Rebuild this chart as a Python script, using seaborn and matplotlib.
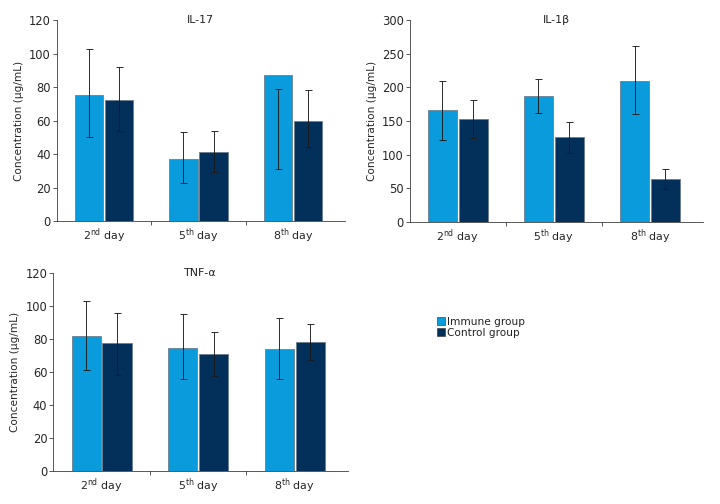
import numpy as np
import pandas as pd
import seaborn as sns
import matplotlib.pyplot as plt
from matplotlib.patches import Patch
from matplotlib.ticker import FixedLocator

# Data
days = ["2nd", "5th", "8th"]
day_labels = [r"2$^{\mathrm{nd}}$ day", r"5$^{\mathrm{th}}$ day", r"8$^{\mathrm{th}}$ day"]
groups = ["Immune group", "Control group"]

il17_immune = [75, 37, 87]
il17_control = [72.5, 41.5, 60]
il17_immune_lo = [50, 23, 31]
il17_immune_hi = [102.5, 53, 79]
il17_control_lo = [54, 29, 44]
il17_control_hi = [92, 54, 78]

il1b_immune = [166, 187, 210]
il1b_control = [153, 126, 64]
il1b_immune_lo = [122, 162, 160]
il1b_immune_hi = [209, 212, 261]
il1b_control_lo = [125, 102, 49]
il1b_control_hi = [181, 148, 79]

tnf_immune = [82, 74.5, 74]
tnf_control = [77.5, 71, 78]
tnf_immune_lo = [61, 55.5, 55.5]
tnf_immune_hi = [103, 95, 93]
tnf_control_lo = [58.5, 57.5, 67.5]
tnf_control_hi = [96, 84.5, 89]

colors = ["#0A9BDC", "#02305A"]

sns.set_style("white")
plt.rcParams['font.family'] = ['Liberation Sans Narrow', 'DejaVu Sans']
plt.rcParams['mathtext.fontset'] = 'custom'
plt.rcParams['mathtext.rm'] = 'Liberation Sans Narrow'
plt.rcParams['text.color'] = '#222222'


def panel(ax, title, immune, control, imm_lo, imm_hi, con_lo, con_hi, ymax, ystep):
    df = pd.DataFrame({
        "day": days * 2,
        "group": [groups[0]] * 3 + [groups[1]] * 3,
        "value": immune + control,
    })
    sns.barplot(data=df, x="day", y="value", hue="group", palette=colors,
                saturation=1, width=0.64, gap=0.06, errorbar=None,
                edgecolor="#6a7c8c", linewidth=0.8, legend=False, ax=ax)
    lows = [imm_lo, con_lo]
    highs = [imm_hi, con_hi]
    bar_conts = list(ax.containers)
    for gi, cont in enumerate(bar_conts):
        xs = [p.get_x() + p.get_width() / 2 for p in cont.patches]
        lo = np.array(lows[gi], dtype=float)
        hi = np.array(highs[gi], dtype=float)
        # error ranges are not always centred on the bar top, so draw them
        # from their own midpoints
        mid = (lo + hi) / 2
        ax.errorbar(xs, mid, yerr=(hi - lo) / 2, fmt="none", ecolor="#1a1a1a",
                    elinewidth=0.9, capsize=3.5, capthick=0.9)
    ax.set_xlim(-0.5, 2.55)
    ax.set_ylim(0, ymax)
    ax.set_yticks(np.arange(0, ymax + 1, ystep))
    ax.set_xticks(range(3))
    ax.set_xticklabels(day_labels, fontsize=11)
    ax.xaxis.set_minor_locator(FixedLocator([0.5, 1.5]))
    ax.tick_params(axis="x", which="major", length=0, pad=5)
    ax.tick_params(axis="x", which="minor", length=4, width=0.8, direction="out",
                   color="#333333", bottom=True)
    ax.tick_params(axis="y", length=4, width=0.8, direction="out", color="#333333",
                   left=True, labelsize=11.5, pad=2)
    ax.set_xlabel("")
    ax.set_ylabel(u"Concentration (\u03bcg/mL)", fontsize=10.5, labelpad=5)
    for s in ["top", "right"]:
        ax.spines[s].set_visible(False)
    for s in ["left", "bottom"]:
        ax.spines[s].set_color("#333333")
        ax.spines[s].set_linewidth(0.8)
    ax.text(0.5, 1.0, title, transform=ax.transAxes, ha="center", va="center",
            fontsize=11)


fig = plt.figure(figsize=(10, 7), dpi=72)
ax1 = fig.add_axes([0.079, 0.5615, 0.400, 0.3985])
ax2 = fig.add_axes([0.569, 0.5595, 0.407, 0.4005])
ax3 = fig.add_axes([0.074, 0.0655, 0.409, 0.3925])

panel(ax1, "IL-17", il17_immune, il17_control, il17_immune_lo, il17_immune_hi,
      il17_control_lo, il17_control_hi, 120, 20)
panel(ax2, u"IL-1\u03b2", il1b_immune, il1b_control, il1b_immune_lo, il1b_immune_hi,
      il1b_control_lo, il1b_control_hi, 300, 50)
panel(ax3, u"TNF-\u03b1", tnf_immune, tnf_control, tnf_immune_lo, tnf_immune_hi,
      tnf_control_lo, tnf_control_hi, 120, 20)

handles = [Patch(facecolor=c, edgecolor="#333333", linewidth=0.6) for c in colors]
fig.legend(handles, groups, loc="upper left", bbox_to_anchor=(0.599, 0.382),
           frameon=False, fontsize=10.5, handlelength=0.8, handleheight=0.85,
           handletextpad=0.2, labelspacing=0.1, borderpad=0)

fig.savefig("out.png", dpi=72)
